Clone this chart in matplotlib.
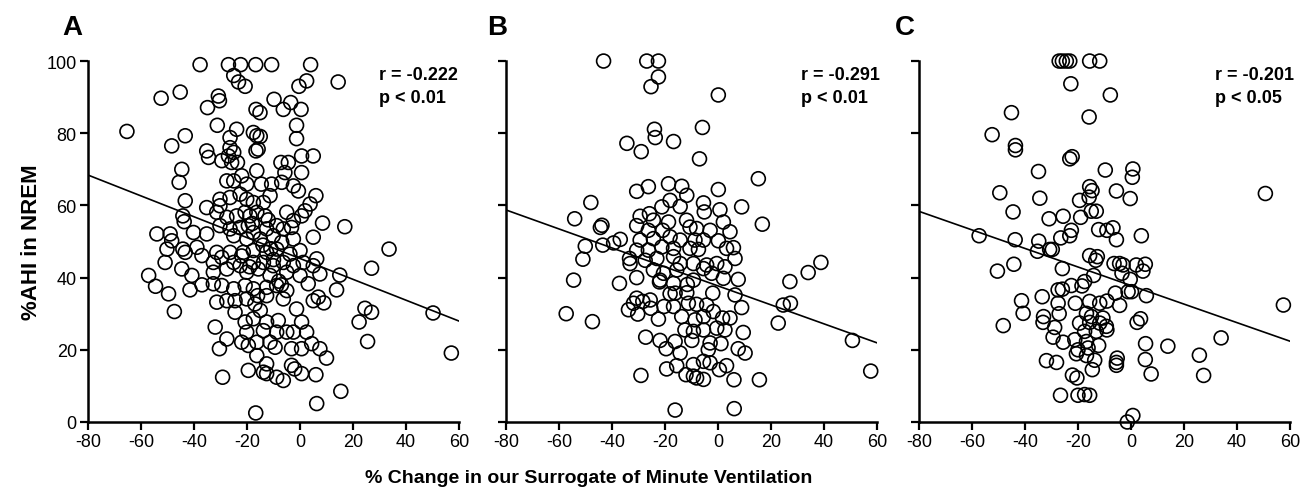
import matplotlib
matplotlib.use("Agg")
import matplotlib.pyplot as plt

plt.rcParams['font.family'] = ['Liberation Sans', 'DejaVu Sans']
plt.rcParams['axes.unicode_minus'] = False

# panel A
a_x = [-37.7, -27, -22.4, -16.7, -10.7, 4, 14.4, 2.5, -0.4, -25, -23.2, -20.7, -45.2, -52.4, -30.8, -30.4,
       -34.9, -16.6, -15.1, -9.8, -6.3, -3.5, 0.4, -31.2, -1.3, -1.3, -65.3, -43.3, -48.4, -23.9, -26.4, -17.6,
       -16.3, -15, -35.2, -34.5, -26.4, -27, -25, -16.6, -15.8, -25.8, -23.6, -29.5, -7.2, -4.4, 0.6, 5,
       -44.6, -16.3, -5.7, 0.6, -45.6, -27.6, -25, -22, -20.1, -14.6, -10.7, -6.9, -2.5, -0.6, 6,
       -43.3, -35.2, -30.2, -26.4, -22.6, -30.2, -20.1, -17.6, -13.8, -11.3, 3.8, 1.9,
       -44.2, -43.7, -31.4, -27.6, -23.9, -20.7, -18.9, -16.3, -13.2, -5, -2.5, 0.6,
       -30.2, -26.4, -22.6, -19.5, -17.6, -12.6, -8.8, -6.3, -3.2, 8.5, 16.9,
       -54, -49, -48.4, -40.2, -35.2, -25, -20.1, -15, -10.1, -6.9, -2.5, 5,
       -50.2, -44.2, -43.3, -38.9, -37, -31.4, -26.4, -21.4, -17.6, -12.6, -8.8, -3.8, 0, 6.3,
       -50.9, -32.7, -29.5, -25, -22.6, -17.6, -13.8, -10.1, -6.3, -2.5, 1.2, 5, 33.6,
       -44.6, -40.8, -32.7, -27.6, -20.1, -15.7, -11.3, -5, 0, 7.5, 15, 27,
       -57.1, -54.5, -49.6, -47.4, -41.5, -37, -32.7, -29.5, -25, -20.7, -17.6, -12.6, -8.8, -5, 3.1, 13.8,
       -31.4, -27.6, -24.5, -20.1, -17, -12.6, -6.3, 5, 6.9, 9, 24.5, 27, 50.2,
       -24.5, -15, -1.3, -17.6, -12.6, -8.2, 0.6, 22.3, -20.7,
       -32, -20.1, -13.8, -8.8, -5, -2.5, 2.5,
       -27.6, -22, -19.5, -16.3, -11.3, -9.4, -3.2, 0.6, 4.4, 7.5, 25.5, -30.4, 57.1,
       -16.3, -12.6, -3.2, -2, 10, -19.5, -13.8, -12.6, -8.8, -6.3, 0.6, 6, -29.2, 15.4, 6.3, -16.7,
       -18, -14, -10, -8, -22, -12, -16, -7, -19, -11]
a_y = [99, 99, 99, 99, 99, 99, 94.2, 94.5, 93, 96, 94.2, 93, 91.4, 89.7, 90.3, 89,
       87.1, 86.6, 85.7, 89.4, 86.6, 88.5, 86.6, 82.2, 82.2, 78.5, 80.5, 79.3, 76.5, 81.1, 78.8, 80.2,
       79.3, 79.1, 75.1, 73.3, 76, 73.7, 74.7, 75.1, 75.6, 71.9, 71.9, 72.4, 71.9, 71.9, 73.7, 73.7,
       70, 69.6, 69.1, 69.1, 66.4, 66.8, 66.8, 68.2, 65.9, 65.9, 65.9, 66.4, 65.4, 64, 62.7,
       61.3, 59.4, 61.7, 62.2, 63.1, 59.9, 61.7, 60.8, 60.8, 62.7, 60.4, 58.5,
       57.1, 55.5, 58.1, 56.7, 57.1, 58.1, 57.1, 58.1, 57.1, 58.1, 55.8, 57.1,
       54.4, 53.5, 53.9, 54.4, 52.5, 53.5, 54.4, 53.5, 53.9, 55.1, 54.1,
       52.1, 52.1, 50.2, 52.5, 52.1, 51.6, 50.7, 50.7, 51.6, 49.8, 50.7, 51.2,
       47.9, 47.9, 47, 48.4, 46.1, 47, 47, 47, 47.5, 47, 47.9, 46.5, 47.5, 45.2,
       44.2, 44.2, 45.6, 44.2, 43.3, 44.2, 44.2, 43.3, 44.2, 43.3, 44.2, 43.3, 47.9,
       42.4, 40.6, 41.5, 42.4, 41.5, 42.4, 40.6, 41.5, 40.6, 41, 40.7, 42.6,
       40.6, 37.6, 35.5, 30.6, 36.6, 38, 38.3, 37.8, 36.9, 37.8, 36.9, 37.3, 37.8, 36.4, 38.3, 36.6,
       33.2, 33.6, 33.6, 34.1, 32.7, 35, 34.1, 33.6, 34.6, 33, 31.5, 30.4, 30.2,
       30.4, 30.9, 31.3, 28.6, 27.7, 28.1, 27.7, 27.7, 27.7,
       26.3, 24.9, 25.3, 24.9, 24.9, 24.9, 24.9,
       23, 22.1, 21.2, 22.1, 22.1, 20.7, 20.3, 20.3, 21.7, 20.3, 22.3, 20.3, 19.1,
       18.4, 16.1, 15.7, 14.7, 17.7, 14.3, 13.8, 13.4, 12.4, 11.5, 13.4, 13.1, 12.4, 8.5, 5.1, 2.5,
       55, 49, 45, 39, 46, 56, 35, 38, 43, 48]

# panel B
b_x = [-43.2, -26.9, -22.5, -22.5, -25.3, 0.1, -5.9, -24, -23.7, -34.4, -16.8, -29, -7, 15.2,
       -30.7, -26.3, -18.7, -13.7, -11.8, 0.1, -48, -18.1, -21.2, -14.3, -5.5, 0.7, 8.9,
       -54.1, -29.4, -25.9, -24.4, -18.7, -11.9, -5.2, 2, 16.7, -43.8, -44.4, -30.7, -26.3, -20.9,
       -10.6, -8.1, -3, 4.5, -36.9, -39.4, -50.1, -43.5, -29.4, -24.4, -18.1, -14.3, -8.7, -5.5, 0.1,
       -30.7, -26.3, -21.2, -16.8, -10.6, -7.4, 3.2, 5.8, -51, -33.4, -33.2, -27.5, -23.1, -16.8,
       -14.3, -9.3, -4.3, -0.5, 2.6, 6.4, 38.8, 34, 27.1, -24.4, -20.6, -15.6, -5.5, -2.4,
       -30.7, -21.9, -16.8, -11.6, -9.3, 2, 7.6, -54.5, -37.2, -22.1, -16.2, -11.8, -2, 6.4,
       -30.7, -28.4, -25.6, -18.1, -31.9, 24.6, 27.3, -33.8, -25.4, -20.4, -16.8, -11.2, -8.1, -4.3,
       -1.8, 8.9, -57.3, -30.3, -47.4, -22.5, -13.7, -8.7, -5.5, 1.7, 4.5, 22.7,
       -12.5, -9.3, -5.5, -0.5, 2.6, 9.5, -27.3, -21.9, -16.2, -9.9, -3, 1.1,
       -19.6, -14.3, -3.7, 7.6, 10.2, -19.4, -15.6, -9.3, -5.5, -3, 0.5, 3.2,
       -12.1, -9.3, -5.5, -8.1, -29.1, 6, 15.6, 50.7, 57.6, -16.2, 6.1]
b_y = [100, 100, 100, 95.6, 92.9, 90.6, 81.6, 81.1, 78.8, 77.2, 77.7, 74.9, 72.9, 67.4,
       63.9, 65.2, 66, 65.3, 62.8, 64.4, 60.8, 61.4, 59.6, 59.7, 60.7, 58.8, 59.6,
       56.3, 57, 57.7, 55.9, 55.4, 55.9, 58.2, 55.4, 54.8, 54.5, 53.9, 54.4, 53.1, 53.1,
       54, 53.6, 53.1, 52.7, 50.6, 49.6, 48.7, 49, 50.4, 50.8, 51.3, 50.4, 50.4, 50.4, 50.2,
       47.6, 47.6, 48.5, 48.1, 48.1, 47.8, 48.1, 48.3, 45.1, 45.3, 43.9, 44.8, 45.3, 45.8,
       43.9, 43.9, 43.5, 43.9, 43, 45.3, 44.2, 41.4, 38.9, 42.1, 41.2, 42.1, 42.5, 41.2,
       40, 39.3, 38.4, 38.1, 39.3, 39.8, 39.5, 39.3, 38.4, 38.8, 35.7, 35.8, 35.7, 35.2,
       34.3, 33.4, 33.8, 35.5, 32.9, 32.4, 32.9, 31.1, 31.5, 32, 32, 32.9, 32.6, 32.4,
       30.6, 31.7, 30, 29.9, 27.8, 28.5, 29.2, 28.3, 29.2, 28.8, 28.8, 27.4,
       25.5, 25.1, 25.5, 26, 25.5, 24.8, 23.5, 22.6, 22.3, 22.6, 21.9, 21.7,
       20.3, 19.1, 20, 20.3, 19.1, 14.7, 15.6, 15.9, 16.8, 16.4, 14.5, 15.6,
       13.1, 12.7, 11.8, 12.2, 12.9, 11.7, 11.7, 22.6, 14.1, 3.3, 3.7]

# panel C
c_x = [-27.1, -25.9, -24.4, -23.1, -15.6, -11.8, -22.7, -7.8, -45.1, -15.8, -52.4, -43.6, -43.6,
       -22.2, -23.1, 0.7, 0.5, -9.7, -34.9, -49.5, 50.7, -15.6, -14.7, -5.5, -34.4, -19.4, -15.8,
       -0.3, -44.5, -15, -13.1, -30.9, -25.6, -19, -12.2, -9.1, -6.8, -5.5, -22.5, -23.1, -26.5,
       -57.3, -43.7, -34.8, 3.9, -35.3, -30.7, -29.7, -15.6, -12.7, -13.3, -6.4, -4.3, -3, 2, 5.4,
       -44.2, -50.4, -25.9, -3.4, 4.5, -14.1, -17.5, -0.3, -22.5, -18.5, -27.5, -25.9, -5.9, -1.1,
       0.2, 5.8, -33.5, -41.3, -27.5, -21, -15.6, -11.8, -9.1, -4.3, -40.7, -27.1, -33, -16.8,
       -14.9, -10.6, -33.2, -19.4, -15.6, -11.8, -9.3, 3.6, 2.3, -48.2, -28.8, -17.5, -13.1, -9.1,
       -29.4, -21.2, -16.8, -25.6, -12.2, 5.5, 13.9, 34, 57.5, -20, -16.2, -20.6, -16.8, -13.7,
       -31.9, -28.1, -5.2, -5.5, -5.5, 5.4, 25.8, -14.6, 7.6, 27.4, -22.1, -20.4, -26.6, -20,
       -17.5, -15.6, 0.7, -1.4]
c_y = [100, 100, 100, 100, 100, 100, 93.7, 90.6, 85.7, 84.5, 79.6, 76.6, 75.4,
       73.5, 72.9, 70.1, 67.8, 69.8, 69.4, 63.5, 63.3, 65.2, 64.1, 64, 62, 61.4, 62.3,
       61.9, 58.2, 58.4, 58.4, 56.3, 57, 56.7, 53.3, 53.1, 53.8, 50.5, 53.1, 51.6, 51,
       51.6, 50.5, 50.1, 51.6, 47.3, 47.8, 47.8, 46.1, 45.8, 44.8, 43.9, 43.9, 43.5, 43.5, 43.7,
       43.7, 41.8, 42.5, 41.2, 41.8, 40.6, 38.9, 39.5, 37.8, 37.7, 36.6, 36.8, 35.7, 36.1,
       36.1, 35, 34.7, 33.6, 32.9, 32.9, 33.4, 32.9, 33.5, 32.3, 30.1, 30, 29.2, 30.1,
       29.2, 28.8, 27.6, 27.4, 27.6, 27.4, 26.5, 28.6, 27.6, 26.7, 26.2, 25.1, 25.1, 25.5,
       23.5, 22.8, 22.3, 22.1, 21.2, 21.7, 21, 23.3, 32.4, 20, 20.5, 18.9, 18.4, 17.1,
       17, 16.5, 17.7, 16.5, 15.7, 17.3, 18.5, 14.5, 13.3, 12.9, 13, 12.2, 7.4, 7.4,
       7.6, 7.4, 1.8, 0]

panels = ['A', 'B', 'C']
r_texts = ['r = -0.222\np < 0.01', 'r = -0.291\np < 0.01', 'r = -0.201\np < 0.05']
fit_slope = [-0.289, -0.263, -0.257]
fit_icpt = [45.3, 37.7, 37.8]

fig = plt.figure(figsize=(13.13, 5.02), dpi=100)
lefts = [0.067, 0.3854, 0.6999]
label_x = [-0.07, -0.051, -0.065]
rtext_x = [0.784, 0.795, 0.798]
data = [(a_x, a_y), (b_x, b_y), (c_x, c_y)]

for i in range(3):
    ax = fig.add_axes([lefts[i], 0.1574, 0.2826, 0.719])
    xs, ys = data[i]
    ax.scatter(xs, ys, s=100, facecolors='none', edgecolors='black', linewidths=1.2, clip_on=False, zorder=3)
    ax.plot([-80, 60], [fit_icpt[i] + fit_slope[i] * -80, fit_icpt[i] + fit_slope[i] * 60], color='black', lw=1.2)
    ax.set_xlim(-80, 60)
    ax.set_ylim(0, 100)
    ax.set_xticks(range(-80, 61, 20))
    ax.set_yticks(range(0, 101, 20))
    for s in ['top', 'right']:
        ax.spines[s].set_visible(False)
    ax.spines['left'].set_linewidth(1.8)
    ax.spines['bottom'].set_linewidth(1.8)
    ax.tick_params(direction='out', length=6, width=1.6, labelsize=13, pad=2)
    if i > 0:
        ax.set_yticklabels([])
    ax.text(rtext_x[i], 0.985, r_texts[i], transform=ax.transAxes, ha='left', va='top',
            fontsize=13, fontweight='bold', linespacing=1.4)
    ax.text(label_x[i], 1.075, panels[i], transform=ax.transAxes, ha='left', va='baseline',
            fontsize=20, fontweight='bold')
    if i == 0:
        ax.set_ylabel('%AHI in NREM', fontsize=16, fontweight='bold', labelpad=3)

fig.text(0.448, 0.046, '% Change in our Surrogate of Minute Ventilation', ha='center', va='center',
         fontsize=14, fontweight='bold')

plt.savefig("out.png", dpi=100)
